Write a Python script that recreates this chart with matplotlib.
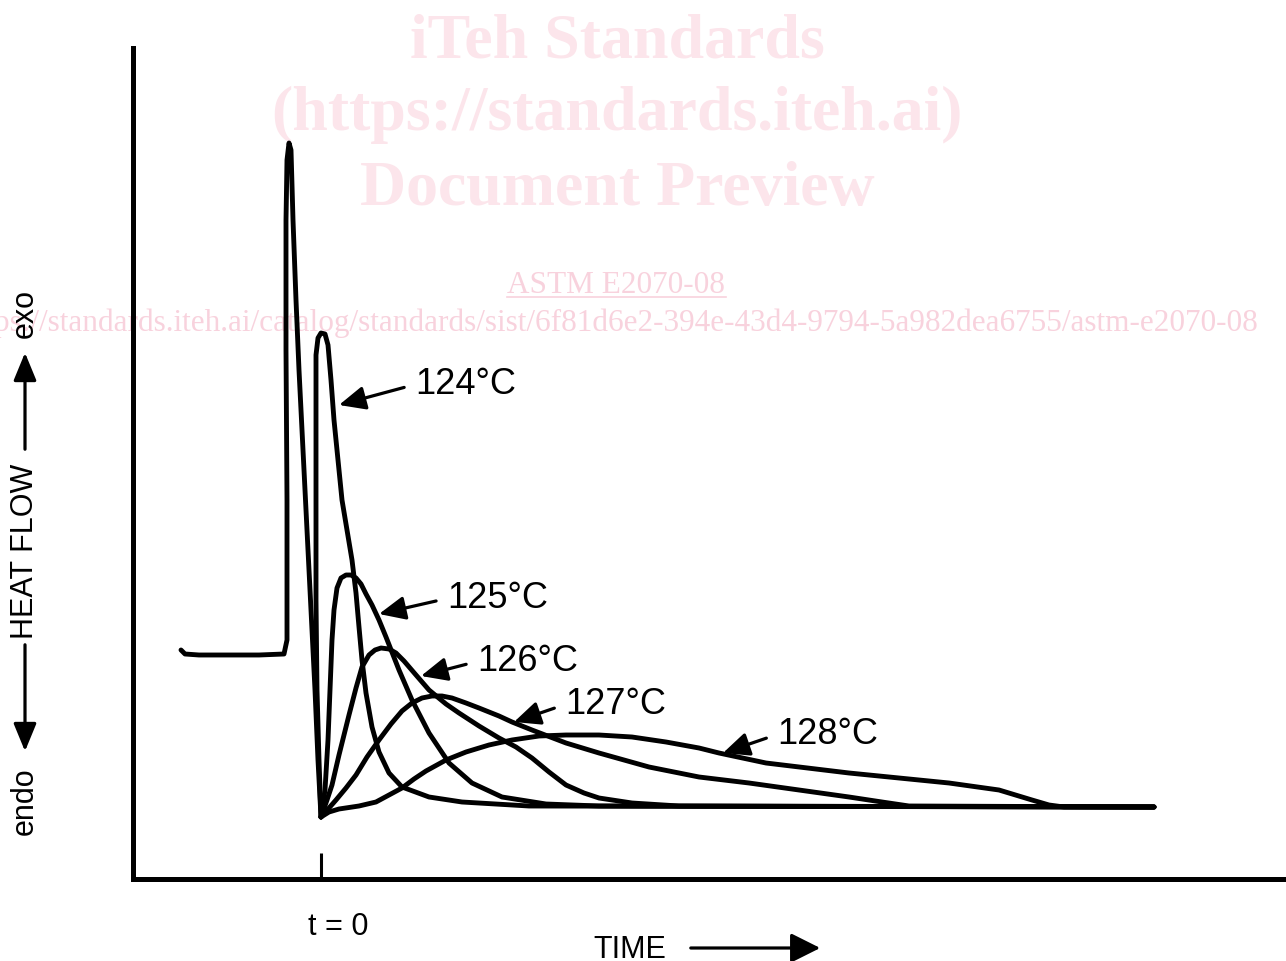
import matplotlib.pyplot as plt
from matplotlib.lines import Line2D
from matplotlib.patches import FancyArrowPatch

plt.rcParams['font.family'] = ['Liberation Sans', 'DejaVu Sans']

# heating transient before the isothermal hold (common to every run)
lead_t = [-1.40, -1.36, -1.22, -0.92, -0.62, -0.37, -0.34, -0.34, -0.35, -0.35,
          -0.34, -0.32, -0.30, -0.28, -0.25, -0.22, -0.18, -0.14, -0.10, -0.06,
          -0.03, 0.00]
lead_q = [1.56, 1.52, 1.51, 1.51, 1.51, 1.52, 1.66, 3.06, 4.56, 5.86,
          6.46, 6.63, 6.56, 5.86, 5.06, 4.36, 3.56, 2.76, 1.96, 1.16,
          0.46, -0.11]

# isothermal heat flow curves
t_124 = [0.00, -0.02, -0.04, -0.05, -0.05, -0.05, -0.05, -0.03, 0.00, 0.04,
         0.07, 0.10, 0.13, 0.17, 0.21, 0.26, 0.31, 0.35, 0.38, 0.41,
         0.45, 0.51, 0.58, 0.68, 0.81, 1.08, 1.41, 2.08]
q_124 = [-0.11, 0.46, 1.16, 2.06, 3.06, 4.06, 4.51, 4.68, 4.73, 4.72,
         4.61, 4.26, 3.86, 3.46, 3.06, 2.76, 2.46, 2.13, 1.79, 1.46,
         1.13, 0.79, 0.54, 0.33, 0.19, 0.09, 0.04, 0.00]

t_125 = [0.00, 0.04, 0.07, 0.09, 0.11, 0.13, 0.16, 0.20, 0.25, 0.30,
         0.35, 0.40, 0.45, 0.51, 0.58, 0.65, 0.78, 0.91, 1.08, 1.28,
         1.51, 1.81, 2.25, 2.78]
q_125 = [-0.11, 0.16, 0.66, 1.16, 1.66, 1.96, 2.18, 2.28, 2.31, 2.31,
         2.28, 2.22, 2.12, 2.01, 1.86, 1.69, 1.36, 1.06, 0.73, 0.43,
         0.23, 0.09, 0.02, 0.00]

t_126 = [0.00, 0.06, 0.11, 0.18, 0.28, 0.35, 0.41, 0.48, 0.54, 0.60,
         0.68, 0.75, 0.83, 0.95, 1.08, 1.25, 1.38, 1.58, 1.78, 1.95,
         2.11, 2.28, 2.45, 2.63, 2.78, 3.11, 3.58]
q_126 = [-0.11, 0.06, 0.21, 0.51, 0.91, 1.18, 1.39, 1.51, 1.56, 1.58,
         1.57, 1.53, 1.45, 1.31, 1.16, 1.02, 0.93, 0.80, 0.68, 0.59,
         0.48, 0.34, 0.21, 0.13, 0.08, 0.03, 0.00]

t_127 = [0.00, 0.08, 0.15, 0.25, 0.35, 0.46, 0.58, 0.70, 0.81, 0.91,
         1.01, 1.11, 1.21, 1.31, 1.45, 1.58, 1.78, 1.91, 2.11, 2.45,
         2.78, 3.28, 3.78, 4.28, 4.78, 5.28, 5.61, 5.88]
q_127 = [-0.11, -0.02, 0.06, 0.18, 0.31, 0.49, 0.66, 0.82, 0.95, 1.03,
         1.08, 1.10, 1.10, 1.08, 1.03, 0.98, 0.90, 0.84, 0.76, 0.63,
         0.53, 0.39, 0.29, 0.23, 0.16, 0.09, 0.04, 0.00]

t_128 = [0.00, 0.08, 0.18, 0.38, 0.55, 0.68, 0.81, 0.93, 1.05, 1.25,
         1.45, 1.68, 1.91, 2.18, 2.45, 2.78, 3.11, 3.45, 3.78, 3.98,
         4.45, 5.28, 6.28, 6.78, 7.11, 7.28, 7.43]
q_128 = [-0.11, -0.06, -0.03, 0.00, 0.04, 0.11, 0.18, 0.27, 0.35, 0.46,
         0.54, 0.61, 0.66, 0.70, 0.71, 0.71, 0.69, 0.64, 0.58, 0.53,
         0.43, 0.33, 0.23, 0.16, 0.06, 0.01, -0.01]

# end of the recorded baseline
t_end, q_end = 8.33, -0.01

run_labels = ['124°C', '125°C', '126°C', '127°C', '128°C']
runs = [(t_124, q_124), (t_125, q_125), (t_126, q_126), (t_127, q_127), (t_128, q_128)]
# arrow tip on each curve and text position (time, heat flow)
label_tip = [(0.18, 4.01), (0.58, 1.92), (1.00, 1.30), (1.93, 0.84), (4.02, 0.53)]
label_pos = [(0.94, 4.12), (1.26, 1.98), (1.56, 1.35), (2.44, 0.92), (4.56, 0.62)]

W, H = 1286, 961


def fp(x, y):
    # figure pixel position -> figure fraction
    return x / W, 1 - y / H


fig = plt.figure(figsize=(W / 100, H / 100), dpi=100)

# faint watermark behind the plot
pink = '#fce5eb'
pink2 = '#f8d2dd'
for txt, y in [('iTeh Standards', 57), ('(https://standards.iteh.ai)', 130),
               ('Document Preview', 205)]:
    fig.text(*fp(617, y), txt, ha='center', va='baseline', fontsize=46,
             fontweight='bold', family='Liberation Serif', color=pink, zorder=-2)
fig.text(*fp(616, 293), 'ASTM E2070-08', ha='center', va='baseline', fontsize=22.5,
         family='Liberation Serif', color=pink2, zorder=-2)
fig.add_artist(Line2D([507 / W, 726 / W], [1 - 297 / H, 1 - 297 / H], color=pink2,
                      lw=1.2, zorder=-2))
fig.text(*fp(1258, 331),
         'https://standards.iteh.ai/catalog/standards/sist/6f81d6e2-394e-43d4-9794-5a982dea6755/astm-e2070-08',
         ha='right', va='baseline', fontsize=22.5, family='Liberation Serif',
         color=pink2, zorder=-2)

ax = fig.add_axes([133 / W, 82 / H, 1153 / W, 831 / H])
ax.patch.set_visible(False)

line_kw = dict(color='black', lw=3.5, solid_joinstyle='round', solid_capstyle='round')
ax.plot(lead_t, lead_q, **line_kw)
for t, q in runs:
    ax.plot(t + [t_end], q + [q_end], **line_kw)

for lab, tip, pos in zip(run_labels, label_tip, label_pos):
    ax.annotate(lab, xy=tip, xytext=pos, ha='left', va='baseline', fontsize=26,
                arrowprops=dict(arrowstyle='-|>,head_length=0.8,head_width=0.36',
                                mutation_scale=20, lw=2.3, color='black',
                                shrinkA=6, shrinkB=0, relpos=(0, 0.5)))

ax.set_xlim(-1.88, 9.65)
ax.set_ylim(-0.73, 7.58)
for side in ['top', 'right']:
    ax.spines[side].set_visible(False)
for side in ['left', 'bottom']:
    ax.spines[side].set_linewidth(3.6)
ax.set_yticks([])
ax.set_xticks([0])
ax.set_xticklabels([])
ax.tick_params(axis='x', direction='in', length=19, width=2.2)

# axis captions with direction arrows
arrow_kw = dict(transform=fig.transFigure, color='black', lw=2.3, mutation_scale=20)
fig.text(*fp(338, 935), 't = 0', ha='center', va='baseline', fontsize=22)
fig.text(*fp(630, 958), 'TIME', ha='center', va='baseline', fontsize=22)
fig.add_artist(FancyArrowPatch(fp(688, 948), fp(823, 948),
                               arrowstyle='-|>,head_length=0.9,head_width=0.45', **arrow_kw))

fig.text(*fp(25, 801), 'endo', rotation=90, ha='center', va='center', fontsize=22)
fig.text(*fp(25, 551), 'HEAT FLOW', rotation=90, ha='center', va='center', fontsize=22)
fig.text(*fp(25, 313), 'exo', rotation=90, ha='center', va='center', fontsize=22)
fig.add_artist(FancyArrowPatch(fp(25, 642), fp(25, 754),
                               arrowstyle='-|>,head_length=0.85,head_width=0.35', **arrow_kw))
fig.add_artist(FancyArrowPatch(fp(25, 452), fp(25, 350),
                               arrowstyle='-|>,head_length=0.85,head_width=0.35', **arrow_kw))

fig.savefig('out.png', dpi=100)
